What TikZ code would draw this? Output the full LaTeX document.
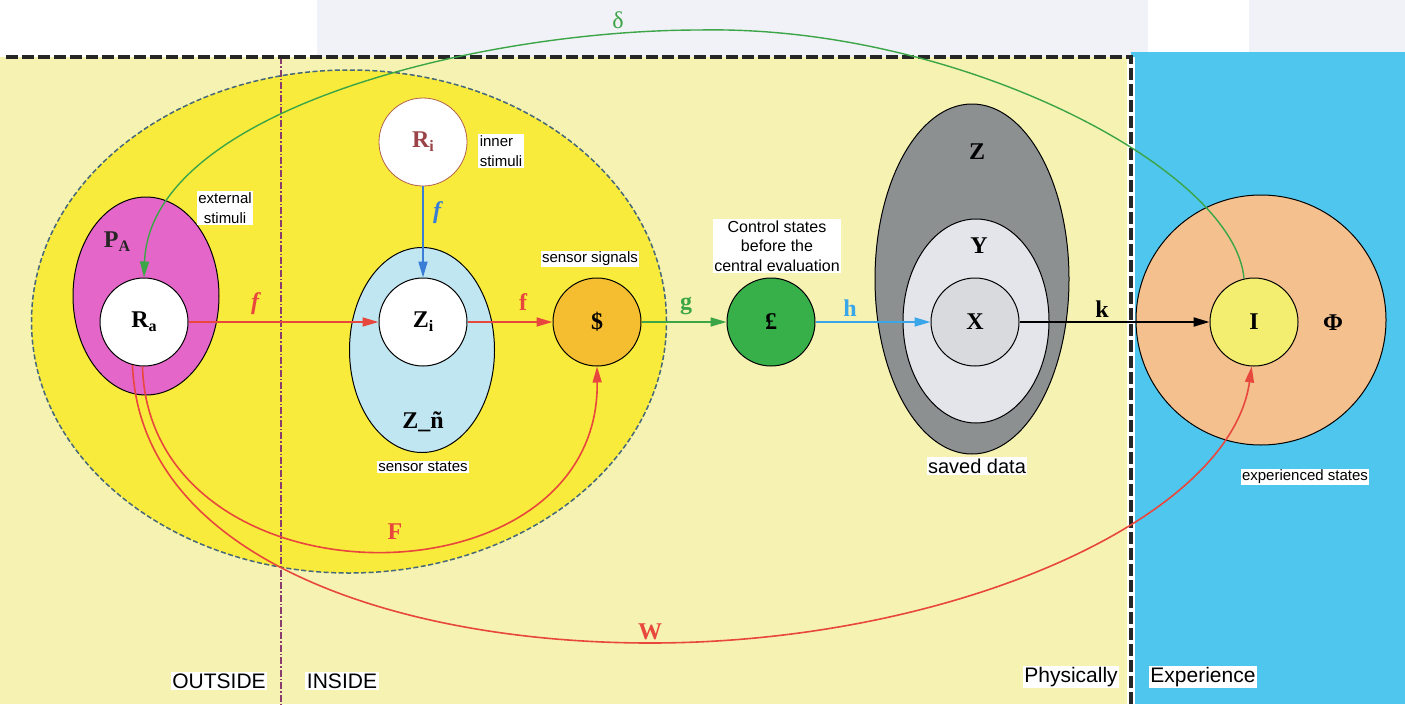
\documentclass[tikz,border=0pt]{standalone}
\usepackage{fontspec}
\setmainfont{Liberation Serif}
\setsansfont{Liberation Sans}
\usetikzlibrary{arrows.meta,shapes.geometric}
\definecolor{paleY}{HTML}{F6F2B2}
\definecolor{bigY}{HTML}{F9EB3C}
\definecolor{skyB}{HTML}{4FC6EE}
\definecolor{topG}{HTML}{F1F2F7}
\definecolor{magA}{HTML}{E466C8}
\definecolor{lblue}{HTML}{C0E6F2}
\definecolor{orng}{HTML}{F5BE30}
\definecolor{grn}{HTML}{37B04A}
\definecolor{gZ}{HTML}{8C9090}
\definecolor{gY}{HTML}{E3E5EB}
\definecolor{gX}{HTML}{D8DADE}
\definecolor{peach}{HTML}{F3C08E}
\definecolor{yI}{HTML}{F4EE70}
\definecolor{redA}{HTML}{E8473D}
\definecolor{greenA}{HTML}{3BA547}
\definecolor{blueA}{HTML}{3A7DD6}
\definecolor{blueH}{HTML}{38A6E8}
\definecolor{purp}{HTML}{8A3C6E}
\definecolor{dashE}{HTML}{45687A}
\definecolor{brownR}{HTML}{9A4448}
\definecolor{riEdge}{HTML}{B0604A}
\newcommand\subs[2]{#1\raisebox{-4pt}{\fontsize{16}{16}\selectfont #2}}
\begin{document}
\begin{tikzpicture}[x=1pt,y=-1pt,
  lab/.style={font=\fontsize{24}{26}\selectfont\bfseries, inner sep=0pt},
  note/.style={fill=white, inner sep=1.5pt, font=\sffamily\fontsize{15}{20}\selectfont, align=center},
  bignote/.style={fill=white, inner sep=1.5pt, font=\sffamily\fontsize{21}{24}\selectfont},
  circ/.style={circle, draw, line width=1pt, minimum size=88pt, inner sep=0pt, font=\fontsize{24}{26}\selectfont\bfseries},
  ell/.style={ellipse, draw, line width=1pt, inner sep=0pt},
  tip/.style={-{Triangle[length=16pt,width=9pt]}},
  conn/.style={line width=1.6pt, tip}
]
\useasboundingbox (0,0) rectangle (1405,704);
% backgrounds
\fill[topG] (0,0) rectangle (1405,57);
\fill[white] (0,0) rectangle (317,57);
\fill[white] (1148,0) rectangle (1249,52);
\fill[paleY] (0,57) rectangle (1131,704);
\fill[skyB] (1131,52) rectangle (1405,704);
\fill[white] (1127,57) rectangle (1135,704);
% big inside ellipse
\node[ellipse, draw=dashE, dash pattern=on 5pt off 2.5pt, line width=1.5pt, fill=bigY, inner sep=0pt,
      minimum width=635pt, minimum height=503pt] (inside) at (349,321.5) {};
% outside/inside divider
\draw[purp, line width=1.2pt, dash pattern=on 7pt off 2pt on 1.5pt off 2pt] (281,57) -- (281,704);
% frame
\draw[black!85, line width=4pt, dash pattern=on 12pt off 4pt] (6,57) -- (1131,57) -- (1131,704);
% nodes
\node[ell, fill=magA, minimum width=146pt, minimum height=198pt] (PA) at (146,296) {};
\node[lab, text=black!85] (PAl) at (117,242) {\subs{P}{A}};
\node[circ, fill=white] (Ra) at (144,322) {\subs{R}{a}};
\node[note] (ext) at (225,208) {external\\stimuli};

\node[circle, draw=riEdge, line width=0.8pt, minimum size=88pt, inner sep=0pt, fill=white,
      font=\fontsize{24}{26}\selectfont\bfseries, text=brownR] (Ri) at (423,142) {\subs{R}{i}};
\node[note, align=left] (inn) at (501,151) {inner\\stimuli};

\node[ell, fill=lblue, minimum width=145pt, minimum height=205pt] (Zell) at (422,350) {};
\node[circ, fill=white] (Zi) at (423,322) {\subs{Z}{i}};
\node[lab] (Zn) at (423,422) {Z\_ñ};
\node[note] (sst) at (423,467) {sensor states};

\node[circ, fill=orng] (S) at (597,322) {\$};
\node[note] (ssig) at (590,259) {sensor signals};

\node[circ, fill=grn] (L) at (771,322) {£};
\node[note, font=\sffamily\fontsize{16}{19.5}\selectfont] (ctl) at (777,246) {Control states\\before the\\central evaluation};

\node[ell, fill=gZ, minimum width=194pt, minimum height=350pt] (Zbig) at (972,279) {};
\node[lab] (Zl) at (977,152) {Z};
\node[ell, fill=gY, minimum width=146pt, minimum height=204pt] (Yell) at (976,321) {};
\node[lab] (Yl) at (979,246) {Y};
\node[circ, fill=gX] (X) at (975,322) {X};
\node[note, font=\sffamily\fontsize{20}{24}\selectfont] (sav) at (977,466) {saved data};

\node[circle, draw, line width=1pt, fill=peach, minimum size=250pt, inner sep=0pt] (Phi) at (1261,320) {};
\node[circ, fill=yI] (I) at (1254,322) {I};
\node[lab] (Phil) at (1333,323) {Φ};
\node[note] (exs) at (1305,477) {experienced states};

\node[bignote] (out) at (219,681) {OUTSIDE};
\node[bignote] (ins) at (342,681) {INSIDE};
\node[bignote] (phy) at (1071,677) {Physically};
\node[bignote] (exp) at (1203,677) {Experience};

% peak points of the long curves
\coordinate (dtop) at (700,30);
\coordinate (wbot) at (650,643);

% straight connectors
\draw[conn, redA] (Ra.east) -- (Zi.west);
\draw[conn, redA] (Zi.east) -- (S.west);
\draw[conn, blueA] (Ri.south) -- (Zi.north);
\draw[conn, greenA] (S.east) -- (L.west);
\draw[conn, blueH] (L.east) -- (X.west);
\draw[conn, black, line width=2pt] (X.east) -- (I.west);

% curved connectors
\draw[redA, line width=1.6pt, tip] (Ra.-92) .. controls (150,612) and (600,612) .. (S.south);
\draw[redA, line width=1.6pt, tip] (Ra.-105) .. controls (140,560) and (400,643) .. (wbot)
   .. controls (950,643) and (1230,520) .. (I.-93);
\draw[greenA, line width=1.4pt, tip] (I.103) .. controls (1235,170) and (960,25) .. (dtop)
   .. controls (480,30) and (150,110) .. (Ra.north);

% edge labels
\node[lab, text=redA, font=\fontsize{24}{26}\selectfont\bfseries\itshape] (f1) at (255,304) {f};
\node[lab, text=redA] (f2) at (523,302) {f};
\node[lab, text=blueA, font=\fontsize{24}{26}\selectfont\bfseries\itshape] (f3) at (437,213) {f};
\node[lab, text=greenA] (g) at (686,306) {g};
\node[lab, text=blueH] (h) at (850,308) {h};
\node[lab] (k) at (1102,309) {k};
\node[lab, text=redA] (F) at (395,532) {F};
\node[lab, text=redA] (W) at (650,632) {W};
\node[text=greenA, font=\fontsize{24}{26}\selectfont] (d) at (618,20) {δ};
\end{tikzpicture}
\end{document}
